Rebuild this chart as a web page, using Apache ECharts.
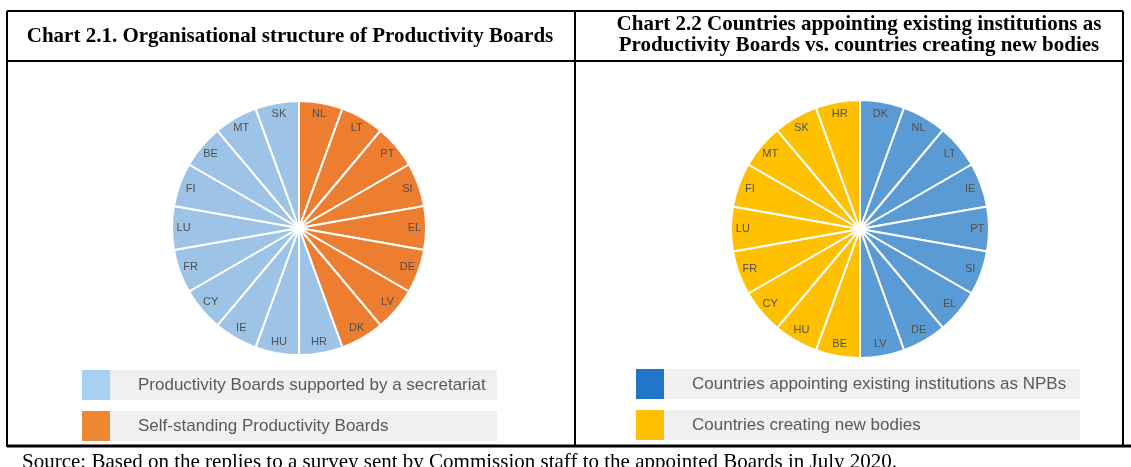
<!DOCTYPE html>
<html>
<head>
<meta charset="utf-8">
<script src="https://cdn.jsdelivr.net/npm/echarts@6/dist/echarts.min.js"></script>
<style>
  html, body { margin: 0; padding: 0; background: #fff; }
  #chart { width: 1131px; height: 467px; }
</style>
</head>
<body>
<div id="chart"></div>
<script>
// chart 2.1 - clockwise from 12 o'clock
const boardCountries = ['NL', 'LT', 'PT', 'SI', 'EL', 'DE', 'LV', 'DK', 'HR', 'HU', 'IE', 'CY', 'FR', 'LU', 'FI', 'BE', 'MT', 'SK']
const boardGroups = ['self', 'self', 'self', 'self', 'self', 'self', 'self', 'self',
  'secr', 'secr', 'secr', 'secr', 'secr', 'secr', 'secr', 'secr', 'secr', 'secr']
const boardValues = [1, 1, 1, 1, 1, 1, 1, 1, 1, 1, 1, 1, 1, 1, 1, 1, 1, 1]

// chart 2.2
const instCountries = ['DK', 'NL', 'LT', 'IE', 'PT', 'SI', 'EL', 'DE', 'LV', 'BE', 'HU', 'CY', 'FR', 'LU', 'FI', 'MT', 'SK', 'HR']
const instGroups = ['exist', 'exist', 'exist', 'exist', 'exist', 'exist', 'exist', 'exist', 'exist',
  'new', 'new', 'new', 'new', 'new', 'new', 'new', 'new', 'new']
const instValues = [1, 1, 1, 1, 1, 1, 1, 1, 1, 1, 1, 1, 1, 1, 1, 1, 1, 1]

const legendLeft = [
  { key: 'secr', label: 'Productivity Boards supported by a secretariat' },
  { key: 'self', label: 'Self-standing Productivity Boards' }
]
const legendRight = [
  { key: 'exist', label: 'Countries appointing existing institutions as NPBs' },
  { key: 'new', label: 'Countries creating new bodies' }
]

const sliceColors = { secr: '#9DC3E6', self: '#ED7D31', exist: '#5B9BD5', new: '#FFC000' }
const swatchColors = { secr: '#A8D0F0', self: '#ED8733', exist: '#2276C9', new: '#FFC000' }

const chart = echarts.init(document.getElementById('chart'))

function pieSeries(names, groups, values, cx, cy, r) {
  const data = names.map((n, i) => ({
    name: n,
    value: values[i],
    itemStyle: { color: sliceColors[groups[i]] }
  }))
  return [{
    type: 'pie',
    center: [cx, cy],
    radius: [0, r],
    startAngle: 90,
    silent: true,
    animation: false,
    label: { show: false },
    labelLine: { show: false },
    itemStyle: { borderColor: '#fff', borderWidth: 2 },
    data: data
  }, {
    // transparent ring, only for the labels near the rim
    type: 'pie',
    center: [cx, cy],
    radius: [r * 0.77, r],
    startAngle: 90,
    silent: true,
    animation: false,
    itemStyle: { color: 'transparent' },
    label: {
      show: true,
      position: 'inside',
      formatter: '{b}',
      color: '#505050',
      fontFamily: 'Liberation Sans, Arial',
      fontSize: 11
    },
    labelLine: { show: false },
    data: names.map((n, i) => ({ name: n, value: values[i] }))
  }]
}

function legendBlock(items, x, boxRight, tops) {
  const els = []
  items.forEach((it, i) => {
    const y = tops[i]
    els.push({
      type: 'rect', shape: { x: x + 27, y: y, width: boxRight - x - 27, height: 30 },
      style: { fill: '#F0F0F0' }, silent: true
    })
    els.push({
      type: 'rect', shape: { x: x, y: y, width: 28, height: 30 },
      style: { fill: swatchColors[it.key] }, silent: true
    })
    els.push({
      type: 'text', x: x + 56, y: y + 15,
      style: {
        text: it.label, fill: '#595959', fontSize: 17,
        fontFamily: 'Liberation Sans, Arial', verticalAlign: 'middle'
      },
      silent: true
    })
  })
  return els
}

function line(x1, y1, x2, y2, w) {
  return {
    type: 'line', shape: { x1: x1, y1: y1, x2: x2, y2: y2 },
    style: { stroke: '#000', lineWidth: w || 2 }, silent: true
  }
}

function heading(text, x, y) {
  return {
    type: 'text', x: x, y: y,
    style: {
      text: text, fill: '#000', fontSize: 21, fontWeight: 'bold',
      fontFamily: serif, align: 'center', verticalAlign: 'middle'
    },
    silent: true
  }
}

const serif = 'Liberation Serif, Times New Roman, serif'

chart.setOption({
  backgroundColor: '#fff',
  series: [].concat(
    pieSeries(boardCountries, boardGroups, boardValues, 299, 228, 127),
    pieSeries(instCountries, instGroups, instValues, 860, 229, 129)
  ),
  graphic: [].concat(
    [
      line(7, 11, 1123, 11),
      line(7, 61, 1123, 61),
      line(7, 11, 7, 447),
      line(575, 11, 575, 447),
      line(1123, 11, 1123, 447),
      line(7, 446, 1131, 446, 3),
      heading('Chart 2.1. Organisational structure of Productivity Boards', 290, 37),
      heading('Chart 2.2 Countries appointing existing institutions as', 859, 25),
      heading('Productivity Boards vs. countries creating new bodies', 859, 46)
    ],
    legendBlock(legendLeft, 82, 497, [370, 411]),
    legendBlock(legendRight, 636, 1080, [369, 410]),
    [{
      type: 'text', x: 22, y: 462,
      style: {
        text: 'Source: Based on the replies to a survey sent by Commission staff to the appointed Boards in July 2020.',
        fill: '#000', fontSize: 21, fontFamily: serif, verticalAlign: 'middle'
      },
      silent: true
    }]
  )
})
</script>
</body>
</html>
